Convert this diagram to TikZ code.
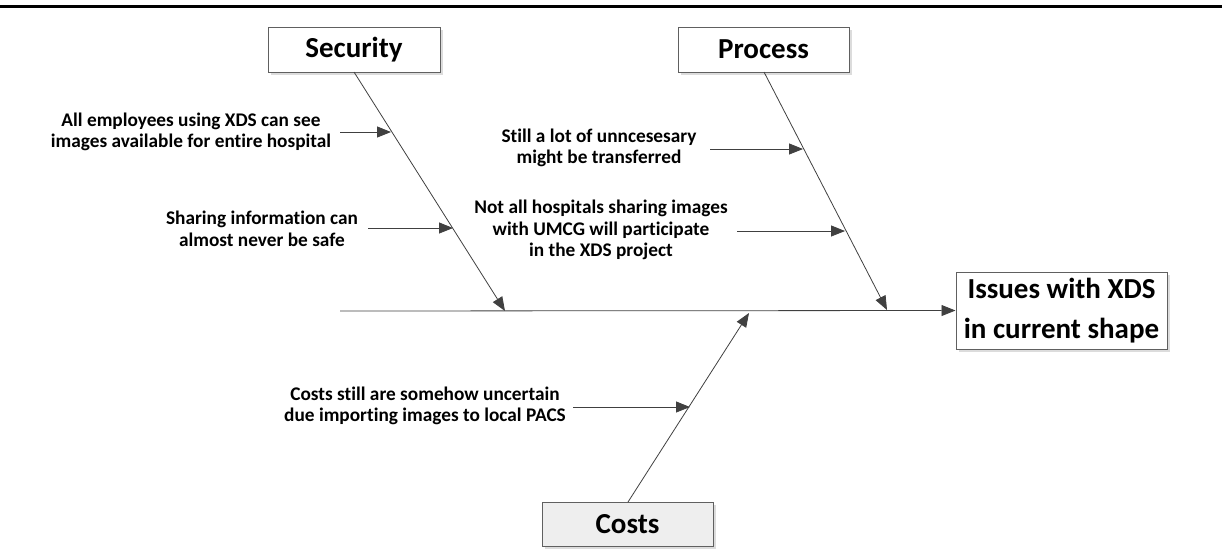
\documentclass[tikz,border=0pt]{standalone}
\usepackage{fontspec}
\setmainfont{Carlito}[Ligatures=NoCommon]
\usetikzlibrary{arrows.meta}
\definecolor{ln}{HTML}{404040}
\definecolor{bx}{HTML}{606060}
\definecolor{shd}{HTML}{DCDCDC}
\tikzset{
  titlebox/.style={draw=bx, line width=1pt, fill=white, minimum height=45pt, font=\fontsize{29}{34}\selectfont\bfseries, inner sep=0pt},
  headbox/.style={draw=bx, line width=1pt, fill=white, font=\fontsize{29}{40}\selectfont\bfseries, align=center, inner sep=0pt, minimum width=211pt, minimum height=77pt},
  cause/.style={font=\fontsize{19.3}{21.5}\selectfont\bfseries, align=center, inner sep=0pt},
  bone/.style={draw=ln, line width=0.8pt, -{Triangle[length=14pt,width=11pt]}},
  shadowed/.style={preaction={draw=none, fill=shd, transform canvas={shift={(3pt,-3pt)}}}}
}
\begin{document}
\begin{tikzpicture}[x=1pt,y=-1pt]
\useasboundingbox (0,0) rectangle (1222,549);
\draw[line width=3pt] (0,6) -- (1222,6);
% boxes
\node[titlebox, shadowed, minimum width=172pt] (sec) at (354,49.5) {Security};
\node[titlebox, shadowed, minimum width=171pt] (proc) at (763.5,49.5) {Process};
\node[titlebox, shadowed, fill={rgb,255:red,238;green,238;blue,238}, minimum width=171pt, minimum height=44pt] (cost) at (627.5,524) {Costs};
\node[headbox, shadowed] (issue) at (1061.5,310.5) {Issues with XDS\\in current shape};
% bone coordinates
\coordinate (secTop) at (354,72);
\coordinate (secTip) at (505,311);
\coordinate (procTop) at (764,72);
\coordinate (procTip) at (887,310);
\coordinate (costBot) at (628,502);
\coordinate (costTip) at (749,313);
\coordinate (spineStart) at (340,311);
% spine and bones
\draw[bone] (spineStart) -- (issue.west);
\draw[bone] (secTop) -- (secTip);
\draw[bone] (procTop) -- (procTip);
\draw[bone] (costBot) -- (costTip);
% cause texts
\node[cause] (c1) at (191,132) {All employees using XDS can see\\images available for entire hospital};
\node[cause] (c2) at (262,229) {Sharing information can\\almost never be safe};
\node[cause] (c3) at (599,148) {Still a lot of unncesesary\\might be transferred};
\node[cause] (c4) at (601,230) {Not all hospitals sharing images\\with UMCG will participate\\in the XDS project};
\node[cause] (c5) at (425,406) {Costs still are somehow uncertain\\due importing images to local PACS};
% cause arrows
\coordinate (a1s) at (340,132); \coordinate (a1e) at (391,132);
\coordinate (a2s) at (368,228); \coordinate (a2e) at (453,228);
\coordinate (a3s) at (710,149); \coordinate (a3e) at (803,149);
\coordinate (a4s) at (737,231); \coordinate (a4e) at (845,231);
\coordinate (a5s) at (573,407); \coordinate (a5e) at (690,407);
\draw[bone] (a1s) -- (a1e);
\draw[bone] (a2s) -- (a2e);
\draw[bone] (a3s) -- (a3e);
\draw[bone] (a4s) -- (a4e);
\draw[bone] (a5s) -- (a5e);
\end{tikzpicture}
\end{document}
